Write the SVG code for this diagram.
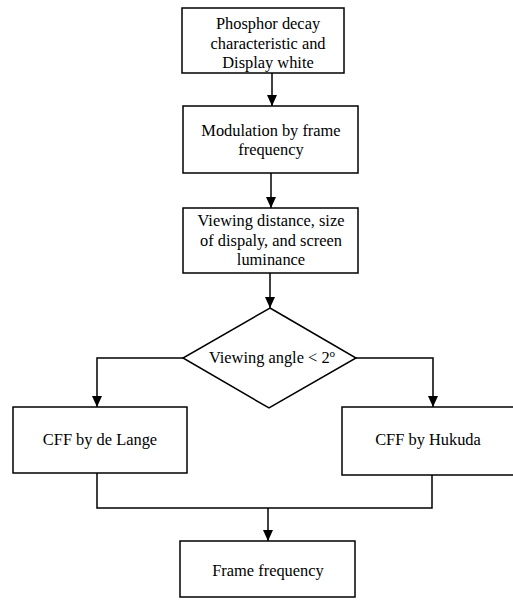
<svg xmlns="http://www.w3.org/2000/svg" width="513" height="607" viewBox="0 0 513 607">
<style>
.box{fill:#fff;stroke:#000;stroke-width:1.5}
.t{font-family:"Liberation Serif","Times New Roman",serif;font-size:16.4px;fill:#000;text-anchor:middle}
.c{fill:none;stroke:#000;stroke-width:1.5}
</style>
<defs>
<marker id="ah" markerWidth="10" markerHeight="12" refX="11" refY="5" orient="auto" markerUnits="userSpaceOnUse">
<path d="M0,0 L11,5 L0,10 Z" fill="#000"/>
</marker>
</defs>
<rect width="513" height="607" fill="#fff"/>
<g id="connectors">
<line class="c" x1="272" y1="73" x2="272" y2="106" marker-end="url(#ah)"/>
<line class="c" x1="271" y1="173" x2="271" y2="208" marker-end="url(#ah)"/>
<line class="c" x1="270" y1="273" x2="270" y2="308" marker-end="url(#ah)"/>
<polyline class="c" points="184,358 97,358 97,407" marker-end="url(#ah)"/>
<polyline class="c" points="356,358 433,358 433,407" marker-end="url(#ah)"/>
<polyline class="c" points="97,473 97,508 432,508 432,475"/>
<line class="c" x1="268" y1="508" x2="268" y2="541" marker-end="url(#ah)"/>
</g>
<g id="n1">
<rect class="box" x="182" y="8" width="162" height="65"/>
<text class="t" x="268" y="29">Phosphor decay</text>
<text class="t" x="268" y="48.5">characteristic and</text>
<text class="t" x="268" y="68">Display white</text>
</g>
<g id="n2">
<rect class="box" x="183" y="106" width="175" height="67"/>
<text class="t" x="271" y="136">Modulation by frame</text>
<text class="t" x="271" y="155">frequency</text>
</g>
<g id="n3">
<rect class="box" x="183" y="208" width="175" height="65"/>
<text class="t" x="271" y="226">Viewing distance, size</text>
<text class="t" x="271" y="246">of dispaly, and screen</text>
<text class="t" x="271" y="265">luminance</text>
</g>
<g id="n4">
<polygon class="box" points="270,308 356,358 269,408 183,358"/>
<text class="t" x="272" y="363">Viewing angle &lt; 2<tspan font-size="11" dy="-6">o</tspan></text>
</g>
<g id="n5">
<rect class="box" x="13" y="407" width="174" height="66"/>
<text class="t" x="100" y="445">CFF by de Lange</text>
</g>
<g id="n6">
<rect class="box" x="342" y="407" width="180" height="68"/>
<text class="t" x="428" y="445">CFF by Hukuda</text>
</g>
<g id="n7">
<rect class="box" x="180" y="541" width="175" height="56"/>
<text class="t" x="268" y="576">Frame frequency</text>
</g>
</svg>
